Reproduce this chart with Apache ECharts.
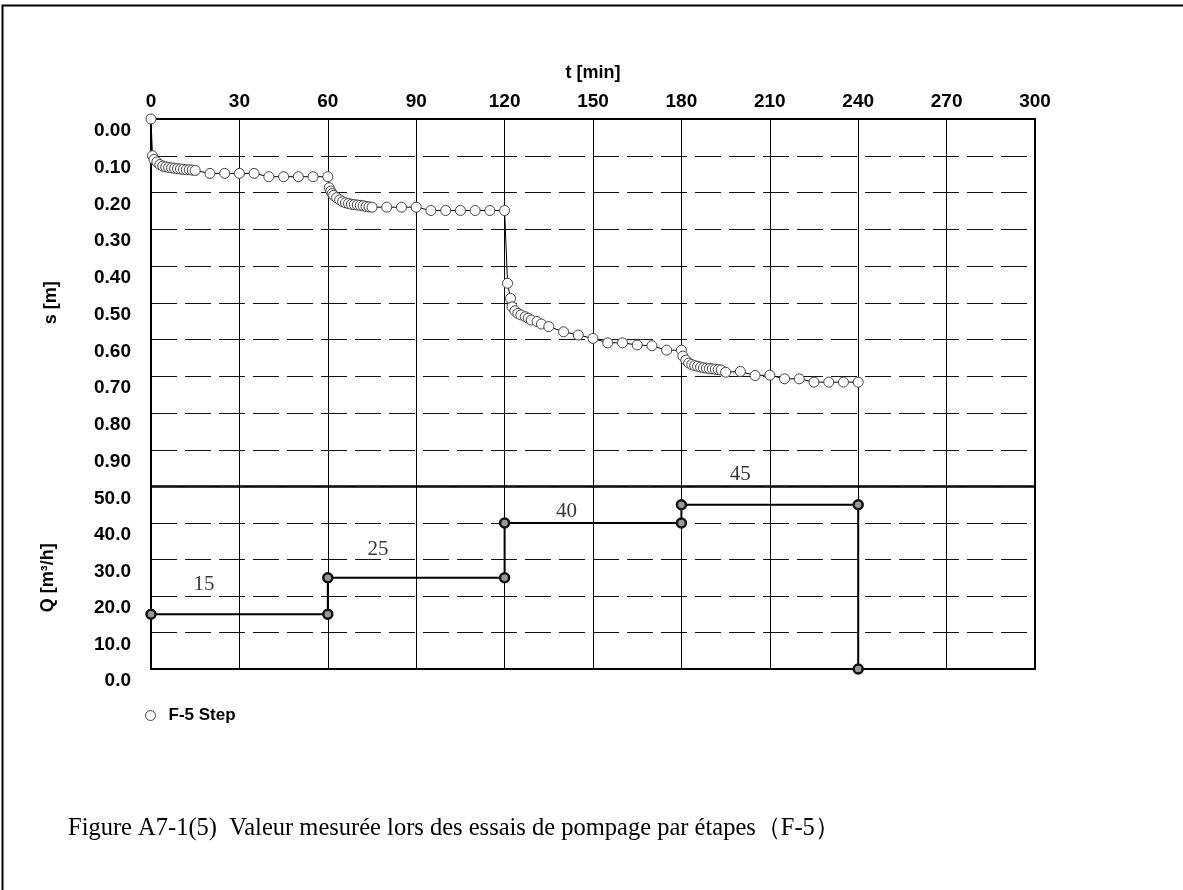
<!DOCTYPE html>
<html>
<head>
<meta charset="utf-8">
<script src="https://cdn.jsdelivr.net/npm/echarts@6/dist/echarts.min.js"></script>
<style>
  html, body { margin: 0; padding: 0; background: #fff; }
  #chart { width: 1183px; height: 890px; }
</style>
</head>
<body>
<div id="chart"></div>
<script>
// Step drawdown test F-5: elapsed time [min] and measured drawdown s [m]
const timeMin = [
  0, 0.5, 1, 2, 3, 4, 5, 6, 7, 8, 9, 10, 11, 12, 13, 14, 15, 20, 25, 30, 35, 40, 45, 50, 55, 60,
  60.5, 61, 61.5, 62, 63, 64, 65, 66, 67, 68, 69, 70, 71, 72, 73, 74, 75, 80, 85, 90, 95, 100, 105, 110, 115, 120,
  121, 122, 122.5, 123.5, 124.5, 125.5, 127, 128, 129, 131, 132.5, 135, 140, 145, 150, 155, 160, 165, 170, 175, 180,
  180.5, 181.5, 182.5, 183.5, 184.5, 185.5, 186.5, 187.5, 188.5, 189.5, 190.5, 191.5, 192.5, 193.5, 195, 200, 205, 210, 215, 220, 225, 230, 235, 240
];
const drawdownM = [
  0.000, 0.100, 0.110, 0.117, 0.124, 0.128, 0.130, 0.132, 0.133, 0.134, 0.135, 0.136, 0.137, 0.138, 0.138, 0.139, 0.140, 0.148, 0.148, 0.148, 0.148, 0.157, 0.157, 0.157, 0.157, 0.157,
  0.187, 0.196, 0.203, 0.208, 0.214, 0.220, 0.225, 0.228, 0.230, 0.232, 0.233, 0.234, 0.235, 0.236, 0.238, 0.239, 0.240, 0.240, 0.240, 0.240, 0.249, 0.249, 0.249, 0.249, 0.249, 0.249,
  0.447, 0.488, 0.511, 0.522, 0.529, 0.533, 0.538, 0.542, 0.547, 0.551, 0.558, 0.565, 0.579, 0.588, 0.597, 0.609, 0.609, 0.615, 0.617, 0.629, 0.629,
  0.645, 0.656, 0.664, 0.668, 0.671, 0.673, 0.675, 0.677, 0.678, 0.679, 0.680, 0.681, 0.682, 0.683, 0.689, 0.687, 0.698, 0.697, 0.707, 0.707, 0.716, 0.716, 0.716, 0.716
];

// Pumping steps: start time [min] and discharge Q [m3/h]
const stepStart = [0, 60, 120, 180];
const stepRate = [15, 25, 40, 45];
const pumpStop = 240;
// where each step's rate is written along its segment [min]
const stepLabelTime = [18, 77, 141, 200];

const seriesName = 'F-5 Step';
const captionText = 'Figure A7-1(5)  Valeur mesurée lors des essais de pompage par étapes\uFF08F-5\uFF09';

// build the staircase of the discharge plot
const stepLine = [];
stepStart.forEach((t, i) => {
  const end = i + 1 < stepStart.length ? stepStart[i + 1] : pumpStop;
  stepLine.push([t, stepRate[i]]);
  stepLine.push([end, stepRate[i]]);
});
stepLine.push([pumpStop, 0]);

const labelLift = [30, 28, 12, 30];

const bold = "'Liberation Sans', Arial, sans-serif";
const serif = "'Liberation Serif', 'Times New Roman', serif";

const dashed = { color: '#111', width: 1, type: [26, 8] };
const solid = { color: '#000', width: 1, type: 'solid' };
const tickFont = { fontFamily: bold, fontWeight: 'bold', fontSize: 19, color: '#000' };
const nameFont = { fontFamily: bold, fontWeight: 'bold', fontSize: 18, color: '#000' };

const chart = echarts.init(document.getElementById('chart'), null, { renderer: 'canvas' });

chart.setOption({
  animation: false,
  backgroundColor: '#fff',
  grid: [
    { left: 151, top: 119, width: 884, height: 367.5, show: true, borderColor: '#000', borderWidth: 2, backgroundColor: 'transparent' },
    { left: 151, top: 486.5, width: 884, height: 182.5, show: true, borderColor: '#000', borderWidth: 2, backgroundColor: 'transparent' }
  ],
  xAxis: [
    {
      gridIndex: 0, type: 'value', position: 'top', min: 0, max: 300, interval: 30,
      name: 't [min]', nameLocation: 'middle', nameGap: 37,
      nameTextStyle: nameFont,
      axisLine: { show: true, lineStyle: { color: '#000', width: 2 } },
      axisTick: { show: false },
      axisLabel: Object.assign({ margin: 8 }, tickFont),
      splitLine: { show: true, lineStyle: solid }
    },
    {
      gridIndex: 1, type: 'value', min: 0, max: 300, interval: 30,
      axisLine: { show: true, lineStyle: { color: '#000', width: 2 } },
      axisTick: { show: false },
      axisLabel: { show: false },
      splitLine: { show: true, lineStyle: solid }
    }
  ],
  yAxis: [
    {
      gridIndex: 0, type: 'value', inverse: true, min: 0, max: 1, interval: 0.1,
      name: 's [m]', nameLocation: 'middle', nameGap: 91, nameRotate: 90,
      nameTextStyle: nameFont,
      axisLine: { show: true, lineStyle: { color: '#000', width: 2 } },
      axisTick: { show: false },
      axisLabel: Object.assign({
        margin: 20, showMaxLabel: false, verticalAlign: 'top', lineHeight: 20, padding: [2, 0, 0, 0],
        formatter: v => v.toFixed(2)
      }, tickFont),
      splitLine: { show: true, lineStyle: dashed }
    },
    {
      gridIndex: 1, type: 'value', min: 0, max: 50, interval: 10,
      name: 'Q [m\u00B3/h]', nameLocation: 'middle', nameGap: 94, nameRotate: 90,
      nameTextStyle: nameFont,
      axisLine: { show: true, lineStyle: { color: '#000', width: 2 } },
      axisTick: { show: false },
      axisLabel: Object.assign({
        margin: 20, verticalAlign: 'top', lineHeight: 20, padding: [2, 0, 0, 0],
        formatter: v => v.toFixed(1)
      }, tickFont),
      splitLine: { show: true, lineStyle: dashed }
    }
  ],
  legend: {
    data: [{ name: seriesName, icon: 'circle' }],
    left: 140, top: 702, itemWidth: 10, itemHeight: 10,
    itemStyle: { color: '#fff', borderColor: '#444', borderWidth: 1 },
    textStyle: { fontFamily: bold, fontWeight: 'bold', fontSize: 17, color: '#000', padding: [0, 0, 0, 8] }
  },
  series: [
    {
      name: seriesName, type: 'line', xAxisIndex: 0, yAxisIndex: 0,
      data: timeMin.map((t, i) => [t, drawdownM[i]]),
      symbol: 'circle', symbolSize: 10, clip: false,
      lineStyle: { color: '#000', width: 1 },
      itemStyle: { color: '#fff', borderColor: '#444', borderWidth: 1 },
      z: 3
    },
    {
      name: 'Q', type: 'line', xAxisIndex: 1, yAxisIndex: 1,
      data: stepLine, symbol: 'circle', symbolSize: 9, clip: false,
      lineStyle: { color: '#000', width: 2 },
      itemStyle: { color: '#999', borderColor: '#111', borderWidth: 2.5 },
      z: 3
    },
    {
      name: 'Q label', type: 'scatter', xAxisIndex: 1, yAxisIndex: 1,
      symbolSize: 0, silent: true, clip: false,
      data: stepRate.map((q, i) => ({
        value: [stepLabelTime[i], q],
        label: { offset: [0, -labelLift[i]] }
      })),
      label: {
        show: true, position: 'inside', formatter: p => String(p.value[1]),
        fontFamily: serif, fontSize: 21, color: '#000'
      }
    }
  ],
  graphic: [
    {
      type: 'rect', silent: true, z: 100,
      shape: { x: 2.5, y: 5.5, width: 1300, height: 1000 },
      style: { fill: 'none', stroke: '#000', lineWidth: 2 }
    },
    {
      type: 'text', left: 68, top: 816, silent: true,
      style: { text: captionText, fontFamily: serif, fontSize: 24.5, fill: '#000' }
    }
  ]
});
</script>
</body>
</html>
